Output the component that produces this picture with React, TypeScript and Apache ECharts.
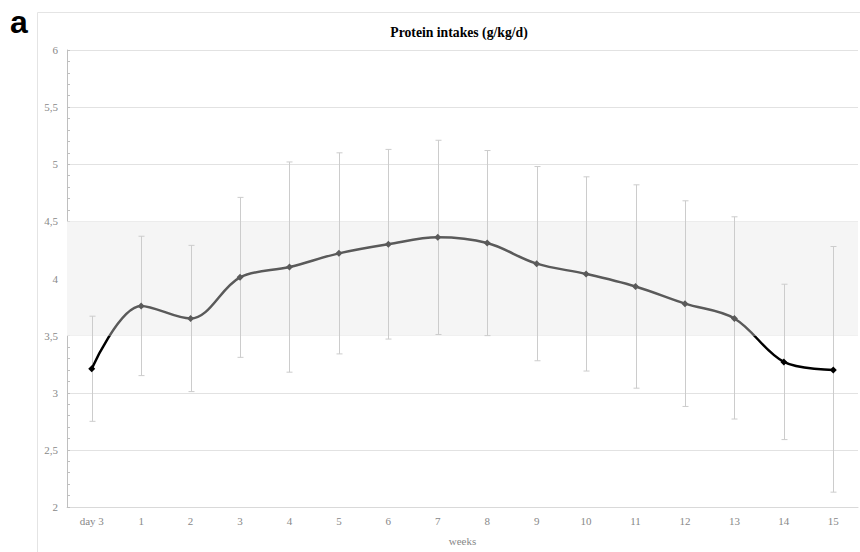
import React, { useEffect, useRef } from "react";
import * as echarts from "echarts";

const categories = ["day 3", "1", "2", "3", "4", "5", "6", "7", "8", "9", "10", "11", "12", "13", "14", "15"];
const means = [3.21, 3.76, 3.65, 4.01, 4.10, 4.22, 4.30, 4.36, 4.31, 4.13, 4.04, 3.93, 3.78, 3.65, 3.27, 3.20];
const lows = [2.75, 3.15, 3.01, 3.31, 3.18, 3.34, 3.47, 3.51, 3.50, 3.28, 3.19, 3.04, 2.88, 2.77, 2.59, 2.13];
const highs = [3.67, 4.37, 4.29, 4.71, 5.02, 5.10, 5.13, 5.21, 5.12, 4.98, 4.89, 4.82, 4.68, 4.54, 3.95, 4.28];
const bandLow = 3.5;
const bandHigh = 4.5;

const SERIF = "'Liberation Serif', 'Times New Roman', serif";

export default function App() {
  const ref = useRef<HTMLDivElement>(null);
  useEffect(() => {
    if (!ref.current) return;
    const chart = echarts.init(ref.current, null, { renderer: "svg" });
    const errData = categories.map((_, i) => [i, lows[i], highs[i]]);
    chart.setOption({
      animation: false,
      backgroundColor: "#ffffff",
      graphic: [
        {
          type: "rect",
          shape: { x: 37.5, y: 12.5, width: 840, height: 560 },
          style: { fill: "none", stroke: "#e4e4e4", lineWidth: 1 },
          silent: true,
          z: -1,
        },
        {
          type: "text",
          left: 10,
          top: 6,
          style: {
            text: "a",
            fontFamily: "'Liberation Sans', Arial, sans-serif",
            fontWeight: "bold",
            fontSize: 32,
            fill: "#000",
          },
        },
      ],
      title: {
        text: "Protein intakes (g/kg/d)",
        left: 454,
        top: 20,
        textAlign: "center",
        textStyle: {
          fontFamily: SERIF,
          fontWeight: "bold",
          fontSize: 13.7,
          color: "#000",
        },
      },
      grid: { left: 67, right: 2, top: 50, bottom: 45, containLabel: false },
      xAxis: {
        type: "category",
        data: categories,
        boundaryGap: true,
        name: "weeks",
        nameLocation: "middle",
        nameGap: 28,
        nameTextStyle: { fontFamily: SERIF, fontSize: 11, color: "#888" },
        axisLine: { lineStyle: { color: "#d9d9d9", width: 1 } },
        axisTick: { show: false },
        axisLabel: { fontFamily: SERIF, fontSize: 11, color: "#888", margin: 8 },
        splitLine: { show: false },
      },
      yAxis: {
        type: "value",
        min: 2,
        max: 6,
        interval: 0.5,
        axisLine: { show: true, lineStyle: { color: "#bfbfbf", width: 1 } },
        axisTick: { show: true, inside: true, length: 3, lineStyle: { color: "#bfbfbf" } },
        minorTick: { show: true, splitNumber: 5, length: 3, lineStyle: { color: "#bfbfbf" } },
        axisLabel: {
          fontFamily: SERIF,
          fontSize: 11,
          color: "#888",
          margin: 9,
          formatter: (v: number) => String(v).replace(".", ","),
        },
        splitLine: { show: true, lineStyle: { color: "#e2e2e2", width: 1 } },
      },
      visualMap: {
        show: false,
        type: "piecewise",
        seriesIndex: 1,
        dimension: 1,
        pieces: [
          { lt: bandLow, color: "#000000" },
          { gte: bandLow, lte: bandHigh, color: "#5a5a5a" },
          { gt: bandHigh, color: "#000000" },
        ],
      },
      series: [
        {
          type: "custom",
          z: 2,
          data: errData,
          renderItem: (params: any, api: any) => {
            const x = api.value(0);
            const top = api.coord([x, api.value(2)]);
            const bot = api.coord([x, api.value(1)]);
            const cx = Math.round(top[0]) + 0.5;
            const hw = 3;
            return {
              type: "group",
              children: [
                { type: "line", shape: { x1: cx, y1: top[1], x2: cx, y2: bot[1] }, style: { stroke: "#cccccc", lineWidth: 1 } },
                { type: "line", shape: { x1: cx - hw, y1: top[1], x2: cx + hw, y2: top[1] }, style: { stroke: "#cccccc", lineWidth: 1 } },
                { type: "line", shape: { x1: cx - hw, y1: bot[1], x2: cx + hw, y2: bot[1] }, style: { stroke: "#cccccc", lineWidth: 1 } },
              ],
            };
          },
          markArea: {
            silent: true,
            itemStyle: { color: "#f5f5f5" },
            data: [[{ yAxis: bandLow }, { yAxis: bandHigh }]],
          },
        },
        {
          type: "line",
          z: 3,
          data: means,
          smooth: 0.35,
          symbol: "diamond",
          symbolSize: 7,
          lineStyle: { width: 2.5 },
        },
      ],
    });
    return () => chart.dispose();
  }, []);
  return <div ref={ref} style={{ position: "fixed", left: 0, top: 0, width: 860, height: 552 }} />;
}
